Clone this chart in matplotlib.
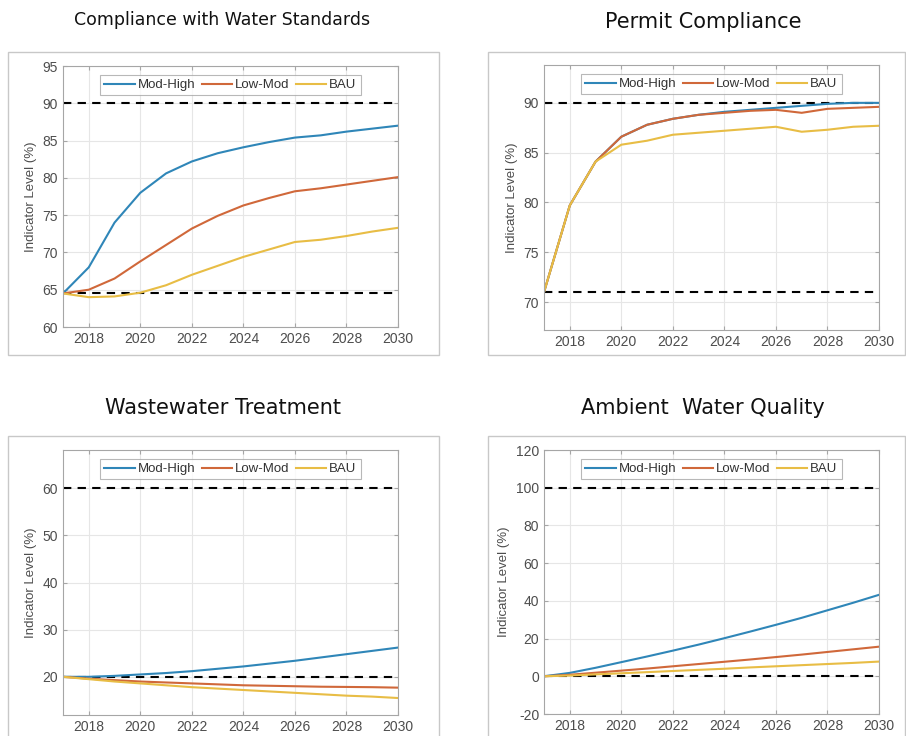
import matplotlib.pyplot as plt
import matplotlib.patches as mpatches

plt.rcParams["axes.unicode_minus"] = False

years = list(range(2017, 2031))
series_names = ["Mod-High", "Low-Mod", "BAU"]

# Compliance with Water Standards
cws_mod_high = [64.5, 68.0, 74.0, 78.0, 80.6, 82.2, 83.3, 84.1, 84.8, 85.4, 85.7, 86.2, 86.6, 87.0]
cws_low_mod = [64.5, 65.0, 66.5, 68.8, 71.0, 73.2, 74.9, 76.3, 77.3, 78.2, 78.6, 79.1, 79.6, 80.1]
cws_bau = [64.5, 64.0, 64.1, 64.6, 65.6, 67.0, 68.2, 69.4, 70.4, 71.4, 71.7, 72.2, 72.8, 73.3]
cws_targets = [90, 64.5]

# Permit Compliance
pc_mod_high = [71.0, 79.7, 84.1, 86.6, 87.8, 88.4, 88.8, 89.1, 89.3, 89.5, 89.7, 89.9, 90.0, 90.0]
pc_low_mod = [71.0, 79.7, 84.1, 86.6, 87.8, 88.4, 88.8, 89.0, 89.2, 89.3, 89.0, 89.4, 89.5, 89.6]
pc_bau = [71.0, 79.7, 84.1, 85.8, 86.2, 86.8, 87.0, 87.2, 87.4, 87.6, 87.1, 87.3, 87.6, 87.7]
pc_targets = [90, 71]

# Wastewater Treatment
wt_mod_high = [20.0, 20.0, 20.2, 20.5, 20.8, 21.2, 21.7, 22.2, 22.8, 23.4, 24.1, 24.8, 25.5, 26.2]
wt_low_mod = [20.0, 19.6, 19.3, 19.0, 18.8, 18.6, 18.4, 18.2, 18.1, 18.0, 17.9, 17.85, 17.8, 17.7]
wt_bau = [20.0, 19.5, 19.0, 18.6, 18.2, 17.8, 17.5, 17.2, 16.9, 16.6, 16.3, 16.0, 15.8, 15.5]
wt_targets = [60, 20]

# Ambient Water Quality
awq_mod_high = [0.0, 1.8, 4.5, 7.5, 10.5, 13.6, 16.8, 20.2, 23.7, 27.3, 31.0, 35.0, 39.0, 43.2]
awq_low_mod = [0.0, 0.8, 1.9, 3.0, 4.1, 5.3, 6.5, 7.7, 8.9, 10.2, 11.5, 12.9, 14.3, 15.7]
awq_bau = [0.0, 0.4, 1.0, 1.6, 2.2, 2.8, 3.4, 4.0, 4.7, 5.3, 5.9, 6.5, 7.1, 7.8]
awq_targets = [100, 0]

colors = ["#2f86b8", "#d0683a", "#e8bd45"]

W, H = 906, 736
fig = plt.figure(figsize=(W / 100, H / 100), dpi=100)


def px_rect(x0, y0, x1, y1):
    """pixel box (top-left origin) -> figure fraction [l, b, w, h]"""
    return [x0 / W, 1 - y1 / H, (x1 - x0) / W, (y1 - y0) / H]


def frame(x0, y0, x1, y1):
    l, b, w, h = px_rect(x0, y0, x1, y1)
    fig.patches.append(mpatches.Rectangle((l, b), w, h, transform=fig.transFigure,
                                          fill=False, edgecolor="#c8c8c8", linewidth=1.0))


panels = [
    dict(title="Compliance with Water Standards", tsize=12.5, tpos=(222, 20),
         frame=(8, 52, 439, 355), ax=(63, 66, 398, 327),
         data=[cws_mod_high, cws_low_mod, cws_bau], targets=cws_targets,
         ylim=(60, 95), yticks=range(60, 96, 5)),
    dict(title="Permit Compliance", tsize=15, tpos=(703, 22),
         frame=(488, 52, 905, 355), ax=(544, 65, 879, 330),
         data=[pc_mod_high, pc_low_mod, pc_bau], targets=pc_targets,
         ylim=(67.2, 93.8), yticks=range(70, 91, 5)),
    dict(title="Wastewater Treatment", tsize=15, tpos=(223, 408),
         frame=(8, 436, 439, 745), ax=(63, 450, 398, 715),
         data=[wt_mod_high, wt_low_mod, wt_bau], targets=wt_targets,
         ylim=(11.9, 68.1), yticks=range(20, 61, 10)),
    dict(title="Ambient  Water Quality", tsize=15, tpos=(703, 408),
         frame=(488, 436, 905, 745), ax=(544, 450, 879, 714),
         data=[awq_mod_high, awq_low_mod, awq_bau], targets=awq_targets,
         ylim=(-20, 120), yticks=range(-20, 121, 20)),
]

for p in panels:
    frame(*p["frame"])
    fig.text(p["tpos"][0] / W, 1 - p["tpos"][1] / H, p["title"], ha="center", va="center",
             fontsize=p["tsize"], family="DejaVu Sans", color="#111111")
    ax = fig.add_axes(px_rect(*p["ax"]))
    for vals, name, c in zip(p["data"], series_names, colors):
        ax.plot(years, vals, color=c, linewidth=1.5, label=name)
    for t in p["targets"]:
        ax.axhline(t, color="black", linestyle=(0, (4, 3)), linewidth=1.5, zorder=1)
    ax.set_xlim(2017, 2030)
    ax.set_ylim(*p["ylim"])
    ax.set_xticks(range(2018, 2031, 2))
    ax.set_yticks(list(p["yticks"]))
    ax.grid(True, color="#e6e6e6", linewidth=0.8)
    ax.set_axisbelow(True)
    for s in ax.spines.values():
        s.set_color("#a6a6a6")
    ax.tick_params(direction="in", length=3, color="#a6a6a6", labelcolor="#4d4d4d",
                   labelsize=10, top=True, right=True)
    for lbl in ax.get_xticklabels() + ax.get_yticklabels():
        lbl.set_family("Liberation Sans")
    ax.set_ylabel("Indicator Level (%)", fontsize=9.5, color="#4d4d4d", family="Liberation Sans")
    leg = ax.legend(loc="upper center", ncol=3, frameon=True, fancybox=False,
                    handlelength=2.3, handletextpad=0.25, columnspacing=0.45,
                    borderpad=0.3, borderaxespad=0.0, bbox_to_anchor=(0.5, 0.965),
                    prop={"family": "Liberation Sans", "size": 9.5})
    leg.get_frame().set_edgecolor("#a6a6a6")
    leg.get_frame().set_linewidth(0.8)
    for txt in leg.get_texts():
        txt.set_color("#333333")

fig.savefig("out.png", dpi=100)
